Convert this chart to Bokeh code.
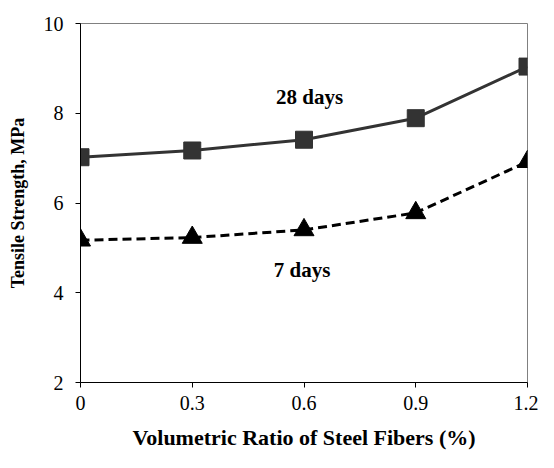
from bokeh.plotting import figure
from bokeh.models import FixedTicker, Range1d
from bokeh.core.properties import value
from bokeh.embed import file_html
from bokeh.resources import INLINE

fiber_ratio = [0, 0.3, 0.6, 0.9, 1.2]
strength_28d = [7.02, 7.17, 7.41, 7.89, 9.04]
strength_7d = [5.17, 5.23, 5.40, 5.78, 6.92]
x_ticks = [0, 0.3, 0.6, 0.9, 1.2]
y_ticks = [2, 4, 6, 8, 10]
label_28 = ("28 days", 0.615, 8.37)
label_7 = ("7 days", 0.595, 4.5)

FONT = "Liberation Serif"

p = figure(width=538, height=452, output_backend="svg", toolbar_location=None,
           x_range=Range1d(0, 1.2), y_range=Range1d(2, 10),
           min_border_left=80, min_border_right=11, min_border_top=23, min_border_bottom=64)
p.xgrid.visible = False
p.ygrid.visible = False
p.outline_line_color = "#808080"
p.outline_line_width = 1

p.line(fiber_ratio, strength_28d, line_color="#333333", line_width=3)
p.scatter(fiber_ratio, strength_28d, marker="square", size=17, fill_color="#333333", line_color="#333333")
p.line(fiber_ratio, strength_7d, line_color="black", line_width=3, line_dash="9 5")
p.scatter(fiber_ratio, strength_7d, marker="triangle", size=20, fill_color="black", line_color="black")

for txt, tx, ty in (label_28, label_7):
    p.text(x=[tx], y=[ty], text=[txt], text_font=value(FONT), text_font_style="bold",
           text_font_size="21px", text_align="center", text_baseline="middle", text_color="black")

for ax in (p.xaxis[0], p.yaxis[0]):
    ax.axis_line_color = "black"
    ax.major_tick_line_color = "black"
    ax.minor_tick_line_color = None
    ax.major_tick_in = 0
    ax.major_tick_out = 5
    ax.major_label_text_font = FONT
    ax.major_label_text_font_size = "20px"
    ax.major_label_text_color = "black"
    ax.axis_label_text_font = FONT
    ax.axis_label_text_font_style = "bold"
    ax.axis_label_text_color = "black"

p.xaxis.axis_label_text_font_size = "22px"
p.yaxis.axis_label_text_font_size = "18px"
p.xaxis.ticker = FixedTicker(ticks=x_ticks)
p.yaxis.ticker = FixedTicker(ticks=y_ticks)
p.xaxis.major_label_overrides = {0: "0", 0.3: "0.3", 0.6: "0.6", 0.9: "0.9", 1.2: "1.2"}
p.xaxis.axis_label = "Volumetric Ratio of Steel Fibers (%)"
p.yaxis.axis_label = "Tensile Strength, MPa"
p.xaxis.major_label_standoff = 8
p.yaxis.major_label_standoff = 12
p.xaxis.axis_label_standoff = 12
p.yaxis.axis_label_standoff = 13

open("out.html", "w").write(file_html(p, INLINE))
